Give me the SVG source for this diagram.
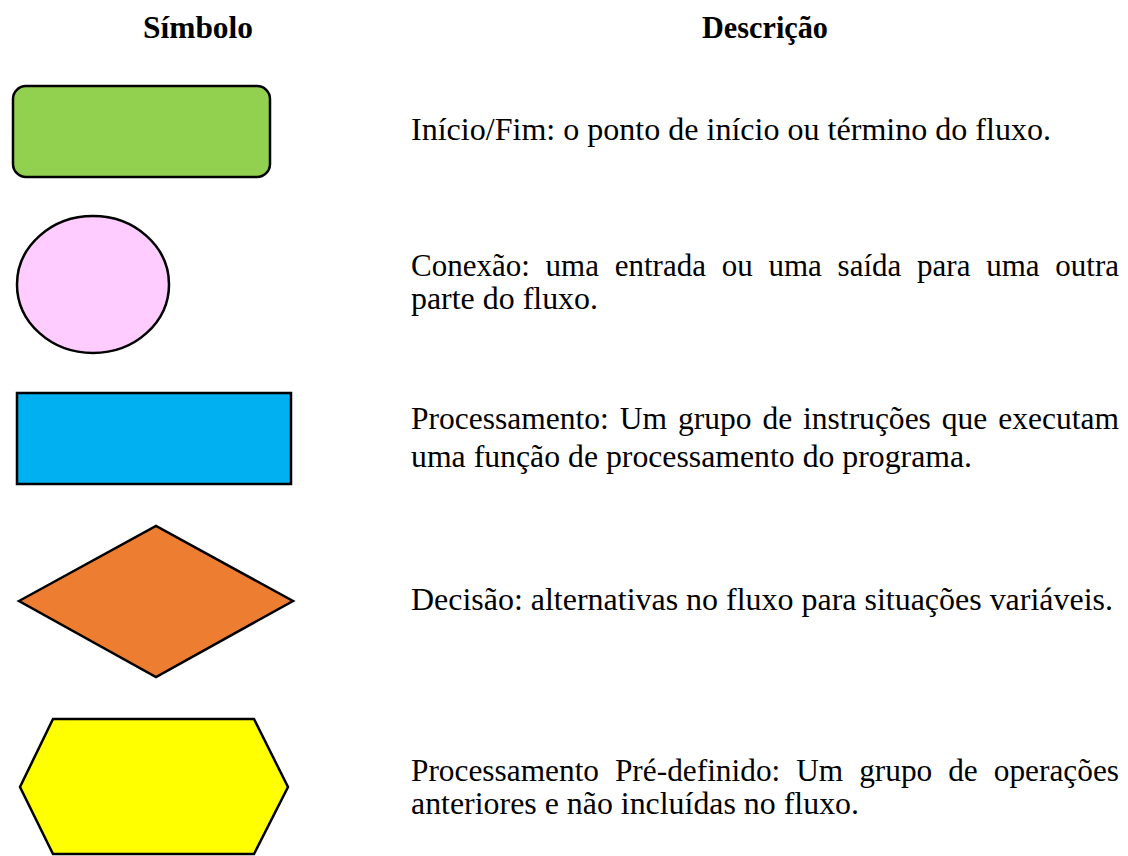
<svg xmlns="http://www.w3.org/2000/svg" width="1128" height="856" viewBox="0 0 1128 856">
<style>
.sh{stroke:#000;stroke-width:2.5;stroke-linejoin:miter}
.hd{font-family:"Liberation Serif","Times New Roman",serif;font-weight:bold;font-size:31px;fill:#000}
.tx{font-family:"Liberation Serif","Times New Roman",serif;font-size:31px;fill:#000}
</style>
<rect width="1128" height="856" fill="#fff"/>
<g id="headers">
<text class="hd" x="143" y="38" textLength="110" lengthAdjust="spacingAndGlyphs">Símbolo</text>
<text class="hd" x="702" y="38" textLength="126" lengthAdjust="spacingAndGlyphs">Descrição</text>
</g>
<g id="inicio-fim">
<rect class="sh" x="13" y="86" width="257" height="91" rx="13" fill="#92D050"/>
<text class="tx" x="411" y="140" textLength="640" lengthAdjust="spacingAndGlyphs">Início/Fim: o ponto de início ou término do fluxo.</text>
</g>
<g id="conexao">
<ellipse class="sh" cx="93" cy="284.5" rx="76" ry="68.5" fill="#FFCCFF"/>
<text class="tx" x="411" y="276" word-spacing="8" textLength="708" lengthAdjust="spacingAndGlyphs">Conexão: uma entrada ou uma saída para uma outra</text>
<text class="tx" x="411" y="309" textLength="187" lengthAdjust="spacingAndGlyphs">parte do fluxo.</text>
</g>
<g id="processamento">
<rect class="sh" x="17" y="393" width="274" height="91" fill="#00B0F0"/>
<text class="tx" x="411" y="429" word-spacing="3" textLength="708" lengthAdjust="spacingAndGlyphs">Processamento: Um grupo de instruções que executam</text>
<text class="tx" x="411" y="467" textLength="561" lengthAdjust="spacingAndGlyphs">uma função de processamento do programa.</text>
</g>
<g id="decisao">
<polygon class="sh" points="19,601 156,526 293,601 156,677" fill="#ED7D31"/>
<text class="tx" x="411" y="610" textLength="702" lengthAdjust="spacingAndGlyphs">Decisão: alternativas no fluxo para situações variáveis.</text>
</g>
<g id="pre-definido">
<polygon class="sh" points="53,719 254,719 288,787 254,854 53,854 20,787" fill="#FFFF00"/>
<text class="tx" x="411" y="781" word-spacing="8" textLength="708" lengthAdjust="spacingAndGlyphs">Processamento Pré-definido: Um grupo de operações</text>
<text class="tx" x="411" y="814" textLength="448" lengthAdjust="spacingAndGlyphs">anteriores e não incluídas no fluxo.</text>
</g>
<g id="connectors"></g>
</svg>
